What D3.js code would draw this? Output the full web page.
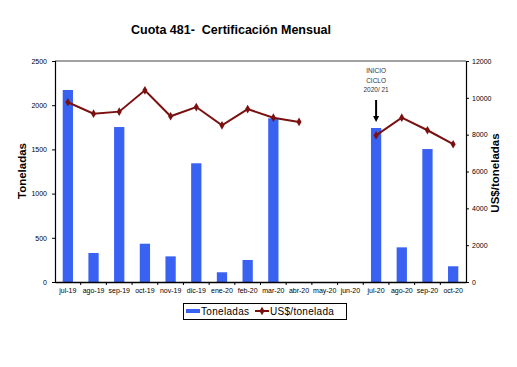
<!DOCTYPE html>
<html>
<head>
<meta charset="utf-8">
<script src="https://cdn.jsdelivr.net/npm/d3@7"></script>
<style>
  body { margin: 0; background: #fff; }
  text { font-family: "Liberation Sans", Arial, sans-serif; }
</style>
</head>
<body>
<svg id="chart" width="517" height="367"></svg>
<script>
var meses = ["jul-19","ago-19","sep-19","oct-19","nov-19","dic-19","ene-20","feb-20",
             "mar-20","abr-20","may-20","jun-20","jul-20","ago-20","sep-20","oct-20"];
var toneladas = [2172, 328, 1753, 433, 290, 1343, 110, 249, 1852, null, null, null, 1742, 392, 1504, 178];
var usdTonelada = [9760, 9140, 9250, 10410, 9000, 9500, 8510, 9390, 8920, 8690, null, null, 7960, 8920, 8240, 7480];
var ticksTon = [0, 500, 1000, 1500, 2000, 2500];
var ticksUsd = [0, 2000, 4000, 6000, 8000, 10000, 12000];

var svg = d3.select("#chart");
var m = {left: 55, right: 466, top: 61, bottom: 282};

var x = d3.scaleBand().domain(meses).range([m.left, m.right]).paddingInner(0.6).paddingOuter(0.3);
var xb = d3.scaleBand().domain(meses).range([m.left, m.right]); // for tick marks
var y = d3.scaleLinear().domain([0, 2500]).range([m.bottom, m.top]);
var y2 = d3.scaleLinear().domain([0, 12000]).range([m.bottom, m.top]);

var barColor = "#3a62f2";
var lineColor = "#7a1010";

// title
svg.append("text")
  .attr("x", 231).attr("y", 34)
  .attr("text-anchor", "middle")
  .style("font-size", "12.5px").style("font-weight", "bold")
  .style("white-space", "pre")
  .text("Cuota 481-  Certificación Mensual");

// plot frame top
svg.append("line")
  .attr("x1", m.left).attr("x2", m.right).attr("y1", m.top).attr("y2", m.top)
  .attr("stroke", "#444").attr("stroke-width", 1);

// bars
svg.selectAll("rect.bar")
  .data(meses.map(function(d, i){ return {mes: d, v: toneladas[i]}; }).filter(function(d){ return d.v != null; }))
  .enter().append("rect")
  .attr("class", "bar")
  .attr("x", function(d){ return x(d.mes); })
  .attr("width", x.bandwidth())
  .attr("y", function(d){ return y(d.v); })
  .attr("height", function(d){ return m.bottom - y(d.v); })
  .attr("fill", barColor);

// left axis
var gl = svg.append("g").attr("transform", "translate(" + m.left + ",0)")
  .call(d3.axisLeft(y).tickValues(ticksTon).tickSize(3).tickPadding(5).tickFormat(d3.format("d")));
// right axis
var gr = svg.append("g").attr("transform", "translate(" + m.right + ",0)")
  .call(d3.axisRight(y2).tickValues(ticksUsd).tickSize(3).tickPadding(3).tickFormat(d3.format("d")));
// bottom axis
var gb = svg.append("g").attr("transform", "translate(0," + m.bottom + ")")
  .call(d3.axisBottom(x).tickSize(0).tickPadding(6));

[gl, gr, gb].forEach(function(g){
  g.select(".domain").attr("stroke", "#000").attr("stroke-width", 1.2);
  g.selectAll(".tick line").attr("stroke", "#000");
  g.selectAll("text").style("font-size", "7px").attr("fill", "#000")
    .style("font-family", "'Liberation Sans', Arial, sans-serif");
});
gb.select(".domain").attr("stroke-width", 1.6);

// x tick marks at band boundaries
svg.selectAll("line.xtick")
  .data(meses.slice(1))
  .enter().append("line")
  .attr("class", "xtick")
  .attr("x1", function(d){ return xb(d); }).attr("x2", function(d){ return xb(d); })
  .attr("y1", m.bottom).attr("y2", m.bottom + 3)
  .attr("stroke", "#000");

// line (gap where null)
var pts = meses.map(function(d, i){ return {mes: d, v: usdTonelada[i]}; });
var line = d3.line()
  .defined(function(d){ return d.v != null; })
  .x(function(d){ return xb(d.mes) + xb.bandwidth() / 2; })
  .y(function(d){ return y2(d.v); });
svg.append("path").datum(pts)
  .attr("d", line).attr("fill", "none")
  .attr("stroke", lineColor).attr("stroke-width", 2);
svg.selectAll("path.dot")
  .data(pts.filter(function(d){ return d.v != null; }))
  .enter().append("path")
  .attr("class", "dot")
  .attr("d", d3.symbol().type(d3.symbolDiamond).size(22))
  .attr("transform", function(d){ return "translate(" + (xb(d.mes) + xb.bandwidth() / 2) + "," + y2(d.v) + ")"; })
  .attr("fill", lineColor);

// annotation
var ax = xb("jul-20") + xb.bandwidth() / 2;
var nota = ["INICIO", "CICLO", "2020/ 21"];
svg.selectAll("text.nota")
  .data(nota).enter().append("text")
  .attr("class", "nota")
  .attr("x", ax).attr("y", function(d, i){ return 73 + i * 9.5; })
  .attr("text-anchor", "middle")
  .style("font-size", "6.5px").attr("fill", "#333")
  .text(function(d){ return d; });
svg.append("line")
  .attr("x1", ax).attr("x2", ax).attr("y1", 100).attr("y2", 117)
  .attr("stroke", "#000").attr("stroke-width", 2);
svg.append("path")
  .attr("d", "M" + (ax - 3) + ",116 L" + (ax + 3) + ",116 L" + ax + ",122 Z")
  .attr("fill", "#000");

// axis titles
svg.append("text")
  .attr("transform", "translate(26,171) rotate(-90)")
  .attr("text-anchor", "middle")
  .style("font-size", "11.5px").style("font-weight", "bold")
  .text("Toneladas");
svg.append("text")
  .attr("transform", "translate(499,173) rotate(-90)")
  .attr("text-anchor", "middle")
  .style("font-size", "11.5px").style("font-weight", "bold")
  .text("US$/toneladas");

// legend
var lg = svg.append("g");
lg.append("rect").attr("x", 183.5).attr("y", 303.5).attr("width", 163).attr("height", 16)
  .attr("fill", "#fff").attr("stroke", "#000");
lg.append("rect").attr("x", 186).attr("y", 309).attr("width", 14).attr("height", 4).attr("fill", barColor);
lg.append("text").attr("x", 201).attr("y", 315).style("font-size", "10px").style("letter-spacing", "0.3px").text("Toneladas");
lg.append("line").attr("x1", 255).attr("x2", 269).attr("y1", 311).attr("y2", 311)
  .attr("stroke", lineColor).attr("stroke-width", 2);
lg.append("path").attr("d", d3.symbol().type(d3.symbolDiamond).size(22))
  .attr("transform", "translate(262,311)").attr("fill", lineColor);
lg.append("text").attr("x", 270).attr("y", 315).style("font-size", "10px").style("letter-spacing", "0.3px").text("US$/tonelada");
</script>
</body>
</html>
